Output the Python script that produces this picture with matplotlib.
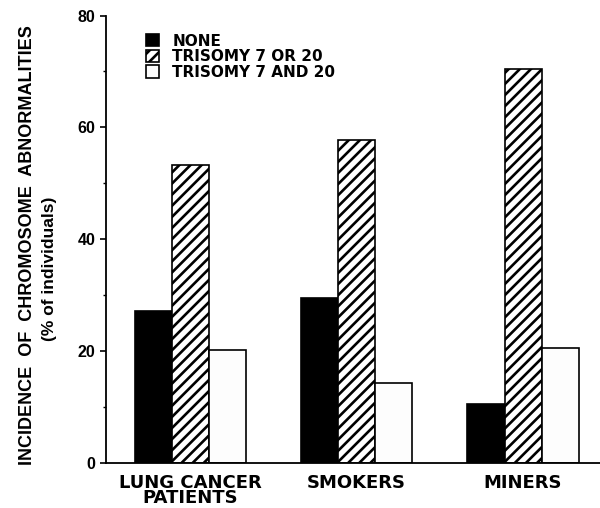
import matplotlib
matplotlib.use("Agg")
import matplotlib.pyplot as plt
from matplotlib.patches import Patch
import numpy as np

categories = ["LUNG CANCER\nPATIENTS", "SMOKERS", "MINERS"]
series_names = ["NONE", "TRISOMY 7 OR 20", "TRISOMY 7 AND 20"]
none_vals = [27.1, 29.5, 10.6]
either_vals = [53.3, 57.7, 70.4]
both_vals = [20.2, 14.3, 20.5]
y_ticks = [0, 20, 40, 60, 80]

plt.rcParams['hatch.linewidth'] = 1.9

fig = plt.figure(figsize=(6.0, 5.08), dpi=100)
ax = fig.add_axes([106/600, 45/508, 494/600, 447.5/508])

x = np.arange(len(categories))
w = 0.2226
styles = [
    dict(facecolor="black", edgecolor="black", hatch=None),
    dict(facecolor="white", edgecolor="black", hatch="///"),
    dict(facecolor="#fdfdfd", edgecolor="black", hatch=None),
]
for i, vals in enumerate([none_vals, either_vals, both_vals]):
    ax.bar(x + (i - 1) * w, vals, width=w, linewidth=1.2, label=series_names[i], **styles[i])

ax.set_xlim(-0.508, 2.463)
ax.set_ylim(0, 80)
ax.spines['top'].set_visible(False)
ax.spines['right'].set_visible(False)
ax.spines['left'].set_linewidth(1.3)
ax.spines['bottom'].set_linewidth(1.3)

ax.set_yticks(y_ticks)
ax.set_yticklabels([str(t) for t in y_ticks], fontfamily="Liberation Sans", fontweight="bold", fontsize=11.5)
ax.set_yticks([10, 30, 50, 70], minor=True)
ax.tick_params(axis='y', which='major', length=4.5, width=1.2, direction='out', pad=3)
ax.tick_params(axis='y', which='minor', length=2.5, width=1.0, direction='out')

ax.set_xticks(x)
ax.set_xticklabels(categories, fontfamily="DejaVu Sans", fontweight="bold", fontsize=13)
ax.tick_params(axis='x', length=0, pad=8)
for lab in ax.get_xticklabels():
    lab.set_linespacing(0.8)

fig.text(28/600, 1 - 245/508, "INCIDENCE  OF  CHROMOSOME  ABNORMALITIES", rotation=90,
         ha="center", va="center", fontfamily="Liberation Sans", fontweight="bold", fontsize=13)
fig.text(50/600, 1 - 269/508, "(% of individuals)", rotation=90,
         ha="center", va="center", fontfamily="Liberation Sans", fontweight="bold", fontsize=12.5)

handles = [Patch(linewidth=1.2, **styles[i]) for i in range(3)]
leg = ax.legend(handles, series_names, loc="upper left", bbox_to_anchor=(138/600, 1 - 26/508),
                bbox_transform=fig.transFigure, frameon=False, handlelength=0.85, handleheight=0.85,
                handletextpad=0.9, labelspacing=0.04, borderpad=0,
                prop=dict(family="DejaVu Sans", weight="bold", size=11))

fig.savefig("out.png", dpi=100)
